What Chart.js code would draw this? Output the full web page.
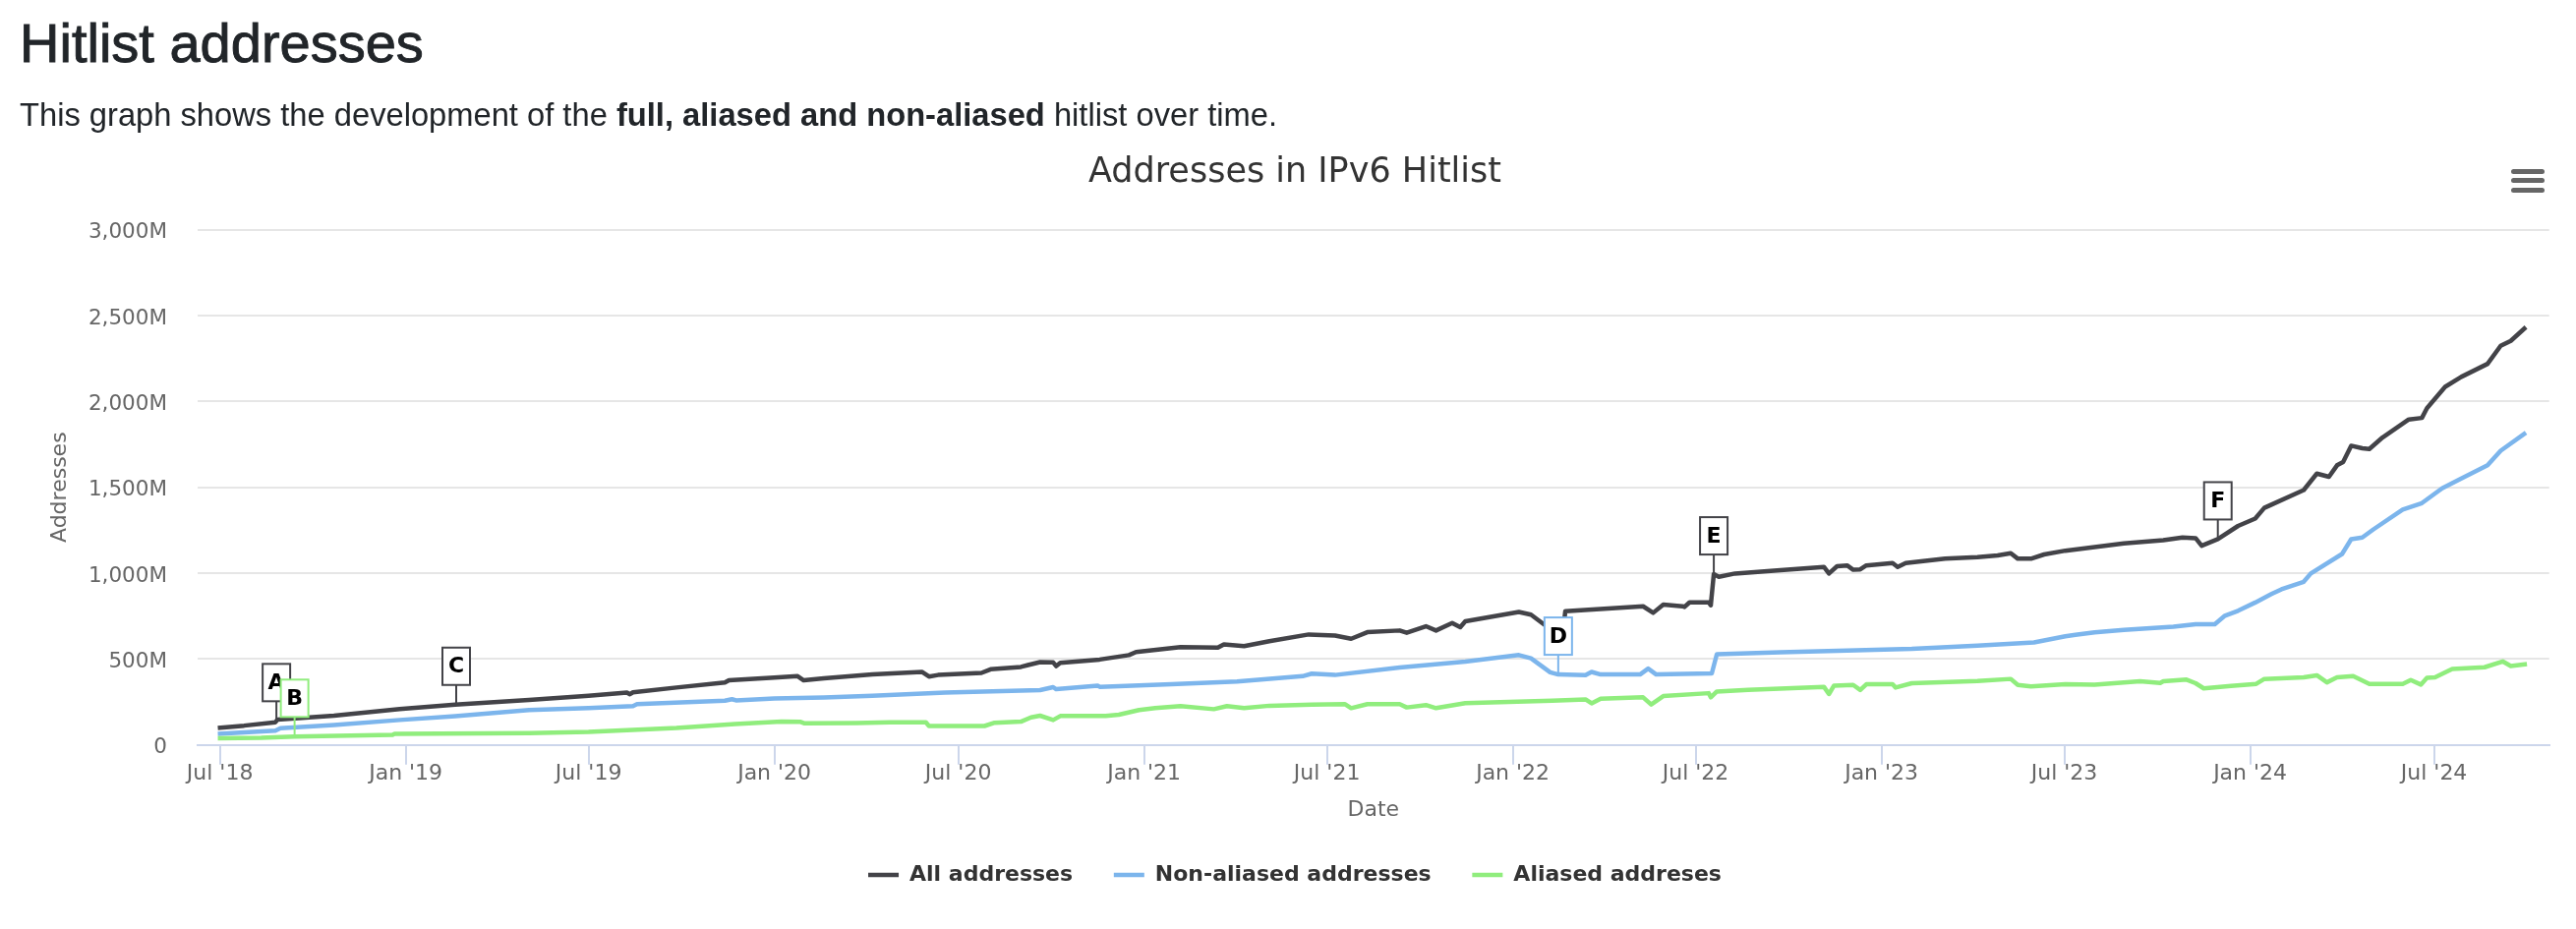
<!DOCTYPE html>
<html>
<head>
<meta charset="utf-8">
<script src="https://cdn.jsdelivr.net/npm/chart.js@4.4.1/dist/chart.umd.min.js"></script>
<style>
html,body{margin:0;padding:0;background:#fff;}
body{width:2620px;height:945px;position:relative;overflow:hidden;font-family:"Liberation Sans",Arial,sans-serif;color:#212529;}
#c{position:absolute;left:0;top:0;}
h3{position:absolute;left:20px;top:15.9px;margin:0;font-size:56px;font-weight:500;line-height:56px;white-space:nowrap;-webkit-text-stroke:0.9px #212529;}
p.sub{position:absolute;left:20px;top:101px;margin:0;font-size:32.7px;line-height:32.7px;white-space:nowrap;}
.menu span{position:absolute;left:2554px;width:34px;height:5px;border-radius:3px;background:#666666;}
</style>
</head>
<body>
<canvas id="c" width="2620" height="945"></canvas>
<h3>Hitlist addresses</h3>
<p class="sub">This graph shows the development of the <b>full, aliased and non-aliased</b> hitlist over time.</p>
<div class="menu"><span style="top:171.7px"></span><span style="top:181px"></span><span style="top:191.2px"></span></div>
<script>
// ---- data (values in millions of addresses) ----
const seriesNames = ['All addresses', 'Non-aliased addresses', 'Aliased addreses'];

const allDates = ['2018-06-29','2018-07-25','2018-08-25','2018-08-27','2018-10-22','2018-12-26','2019-02-19','2019-05-03','2019-07-01','2019-08-08','2019-08-11','2019-08-14','2019-09-26','2019-11-13','2019-11-17','2020-01-01','2020-01-24','2020-01-30','2020-02-19','2020-04-07','2020-05-26','2020-06-02','2020-06-11','2020-07-24','2020-08-02','2020-09-01','2020-09-08','2020-09-20','2020-10-03','2020-10-06','2020-10-10','2020-11-18','2020-12-17','2020-12-24','2021-02-06','2021-03-15','2021-03-21','2021-04-10','2021-05-05','2021-06-13','2021-07-09','2021-07-25','2021-08-10','2021-09-11','2021-09-18','2021-10-07','2021-10-17','2021-11-02','2021-11-10','2021-11-15','2022-01-07','2022-01-19','2022-02-01','2022-02-09','2022-02-20','2022-02-22','2022-05-10','2022-05-20','2022-05-30','2022-06-18','2022-06-20','2022-06-25','2022-07-14','2022-07-16','2022-07-19','2022-07-24','2022-08-09','2022-09-23','2022-11-05','2022-11-10','2022-11-18','2022-11-28','2022-12-04','2022-12-11','2022-12-17','2023-01-12','2023-01-17','2023-01-25','2023-03-05','2023-04-06','2023-04-26','2023-05-09','2023-05-16','2023-05-29','2023-06-11','2023-07-02','2023-08-29','2023-10-07','2023-10-26','2023-11-08','2023-11-14','2023-11-30','2023-12-20','2024-01-06','2024-01-15','2024-01-22','2024-02-23','2024-03-07','2024-03-19','2024-03-27','2024-04-02','2024-04-10','2024-04-21','2024-04-28','2024-05-11','2024-06-06','2024-06-19','2024-06-24','2024-07-12','2024-07-28','2024-08-23','2024-09-05','2024-09-15','2024-09-30'];
const allValues = [99,112,132,147,170,209,234,262,286,305,295,306,334,363,376,392,400,376,388,411,425,398,407,419,440,454,465,482,480,459,478,497,523,541,570,566,585,575,604,643,637,618,656,666,653,691,666,710,685,720,774,758,701,680,672,778,807,769,817,807,803,830,830,813,994,979,998,1017,1036,998,1040,1045,1020,1022,1045,1059,1036,1059,1084,1093,1103,1116,1084,1084,1109,1131,1173,1192,1208,1204,1160,1198,1275,1318,1380,1399,1484,1580,1561,1628,1647,1742,1727,1723,1790,1895,1904,1961,2085,2143,2219,2324,2353,2433];

const nonAliasedDates = ['2018-06-29','2018-08-25','2018-08-30','2018-10-22','2018-12-26','2019-02-19','2019-05-03','2019-07-01','2019-08-14','2019-08-18','2019-11-13','2019-11-20','2019-11-24','2020-01-01','2020-02-19','2020-04-07','2020-06-18','2020-09-20','2020-10-03','2020-10-06','2020-11-16','2020-11-18','2021-01-28','2021-04-03','2021-06-07','2021-06-16','2021-07-09','2021-09-11','2021-11-15','2022-01-07','2022-01-19','2022-02-07','2022-02-15','2022-03-14','2022-03-20','2022-03-29','2022-05-07','2022-05-15','2022-05-23','2022-07-17','2022-07-22','2022-09-23','2022-11-28','2023-01-31','2023-04-06','2023-06-01','2023-07-02','2023-07-12','2023-07-31','2023-08-29','2023-10-17','2023-11-08','2023-11-27','2023-12-07','2023-12-20','2024-01-06','2024-01-22','2024-02-01','2024-02-23','2024-03-01','2024-04-01','2024-04-10','2024-04-21','2024-05-02','2024-05-31','2024-06-19','2024-07-09','2024-07-28','2024-08-23','2024-09-05','2024-09-30'];
const nonAliasedValues = [64,83,97,116,145,167,203,214,226,237,257,266,259,270,276,286,305,319,336,324,345,338,353,369,400,415,407,450,485,523,504,423,410,406,425,410,410,444,410,416,528,540,549,559,578,597,632,641,655,669,688,703,703,752,781,829,878,906,950,998,1112,1198,1208,1255,1370,1408,1494,1551,1628,1713,1818];

const aliasedDates = ['2018-06-29','2018-08-11','2018-09-13','2018-12-19','2018-12-21','2019-05-03','2019-07-01','2019-09-26','2019-11-23','2020-01-08','2020-01-27','2020-01-31','2020-03-22','2020-04-24','2020-05-30','2020-06-02','2020-07-27','2020-08-06','2020-09-01','2020-09-11','2020-09-20','2020-10-03','2020-10-10','2020-11-24','2020-12-07','2020-12-27','2021-01-12','2021-02-06','2021-03-11','2021-03-24','2021-04-10','2021-05-05','2021-06-16','2021-07-19','2021-07-25','2021-08-10','2021-09-11','2021-09-18','2021-10-07','2021-10-17','2021-11-15','2022-02-09','2022-03-14','2022-03-20','2022-03-29','2022-05-10','2022-05-18','2022-05-30','2022-07-14','2022-07-16','2022-07-22','2022-08-22','2022-11-05','2022-11-10','2022-11-15','2022-12-04','2022-12-11','2022-12-17','2023-01-12','2023-01-15','2023-01-31','2023-04-06','2023-05-09','2023-05-16','2023-05-29','2023-07-02','2023-07-31','2023-09-14','2023-10-04','2023-10-07','2023-10-30','2023-11-08','2023-11-16','2023-12-13','2024-01-07','2024-01-15','2024-02-23','2024-03-07','2024-03-17','2024-03-27','2024-04-12','2024-04-28','2024-05-31','2024-06-08','2024-06-18','2024-06-24','2024-07-02','2024-07-19','2024-08-20','2024-09-07','2024-09-15','2024-10-01'];
const aliasedValues = [39,41,48,58,64,68,75,98,122,135,134,125,127,131,131,110,110,129,135,160,170,145,168,168,176,203,214,226,208,226,214,228,234,237,214,237,237,218,232,214,243,258,265,242,269,277,235,284,301,277,311,321,338,296,345,349,320,353,353,334,359,372,384,349,340,353,351,370,360,370,380,359,329,343,355,384,393,405,364,393,401,355,355,378,351,390,393,442,452,486,459,471];

const tickDates = ['2018-07-01','2019-01-01','2019-07-01','2020-01-01','2020-07-01','2021-01-01','2021-07-01','2022-01-01','2022-07-01','2023-01-01','2023-07-01','2024-01-01','2024-07-01'];
const tickLabels = ["Jul '18","Jan '19","Jul '19","Jan '20","Jul '20","Jan '21","Jul '21","Jan '22","Jul '22","Jan '23","Jul '23","Jan '24","Jul '24"];

const flagLetters = ['A','B','C','D','E','F'];
const flagDates = ['2018-08-26','2018-09-13','2019-02-20','2022-02-15','2022-07-19','2023-11-30'];
const flagSeries = [0, 2, 0, 1, 0, 0];

// ---- helpers ----
const ts = d => Date.parse(d + 'T00:00:00Z');
const pts = (ds, vs) => ds.map((d, i) => ({x: ts(d), y: vs[i]}));
const fmt = v => v === 0 ? '0' : String(v).replace(/\B(?=(\d{3})+(?!\d))/g, ',') + 'M';
const colors = ['#434348', '#7cb5ec', '#90ed7d'];

function valueAt(data, t) {
  for (let i = 1; i < data.length; i++) {
    if (data[i].x >= t) {
      const a = data[i - 1], b = data[i];
      const f = (t - a.x) / (b.x - a.x);
      return a.y + f * (b.y - a.y);
    }
  }
  return data[data.length - 1].y;
}

const flagPlugin = {
  id: 'flags',
  afterDatasetsDraw(chart) {
    const ctx = chart.ctx, xs = chart.scales.x, ys = chart.scales.y;
    ctx.save();
    flagLetters.forEach((letter, i) => {
      const ds = chart.data.datasets[flagSeries[i]];
      const t = ts(flagDates[i]);
      const px = xs.getPixelForValue(t);
      const py = ys.getPixelForValue(valueAt(ds.data, t));
      const stem = 20, w = 28, h = 38;
      ctx.strokeStyle = ds.borderColor;
      ctx.lineWidth = 2;
      ctx.beginPath();
      ctx.moveTo(px, py);
      ctx.lineTo(px, py - stem);
      ctx.stroke();
      ctx.fillStyle = '#ffffff';
      ctx.fillRect(px - w / 2, py - stem - h, w, h);
      ctx.strokeRect(px - w / 2, py - stem - h, w, h);
      ctx.fillStyle = '#000000';
      ctx.font = 'bold 22px "DejaVu Sans"';
      ctx.textAlign = 'center';
      ctx.textBaseline = 'middle';
      ctx.fillText(letter, px, py - stem - h / 2 + 1);
    });
    ctx.restore();
  }
};

Chart.defaults.font.family = '"DejaVu Sans", Verdana, sans-serif';

new Chart(document.getElementById('c'), {
  type: 'line',
  data: {
    datasets: [
      {label: seriesNames[0], data: pts(allDates, allValues), borderColor: colors[0], backgroundColor: colors[0], borderWidth: 4.5, pointRadius: 0, pointHoverRadius: 0, order: 3},
      {label: seriesNames[1], data: pts(nonAliasedDates, nonAliasedValues), borderColor: colors[1], backgroundColor: colors[1], borderWidth: 4.5, pointRadius: 0, pointHoverRadius: 0, order: 2},
      {label: seriesNames[2], data: pts(aliasedDates, aliasedValues), borderColor: colors[2], backgroundColor: colors[2], borderWidth: 4.5, pointRadius: 0, pointHoverRadius: 0, order: 1}
    ]
  },
  options: {
    responsive: false,
    animation: false,
    events: [],
    elements: {line: {tension: 0, borderJoinStyle: 'round', borderCapStyle: 'butt', fill: false}},
    layout: {padding: {left: 20, right: 6, top: 0, bottom: 34.1}},
    scales: {
      x: {
        type: 'linear', position: 'bottom', bounds: 'data',
        min: ts('2018-06-09'), max: ts('2024-10-23'),
        afterBuildTicks: s => { s.ticks = tickDates.map(d => ({value: ts(d)})); },
        afterFit: s => { s.height = 79.5; },
        ticks: {autoSkip: false, maxRotation: 0, minRotation: 0, color: '#666666', font: {size: 22, lineHeight: 1}, padding: -1,
                callback: (v, i) => tickLabels[i]},
        grid: {drawOnChartArea: false, drawTicks: true, tickLength: 20, color: '#ccd6eb', lineWidth: 2},
        border: {display: true, color: '#ccd6eb', width: 2},
        title: {display: true, text: 'Date', color: '#666666', font: {size: 22}, padding: {top: 0, bottom: 0}}
      },
      y: {
        position: 'left', min: 0, max: 3000,
        afterFit: s => { s.width = 181; },
        ticks: {stepSize: 500, color: '#666666', font: {size: 21.5}, padding: 31, labelOffset: 3, callback: fmt},
        grid: {color: '#e6e6e6', lineWidth: 2, drawTicks: false},
        border: {display: false},
        title: {display: true, text: 'Addresses', color: '#666666', font: {size: 22}, padding: {top: 27.8, bottom: 0}}
      },
      yR: {
        position: 'right', display: true,
        afterFit: s => { s.width = 21.3; },
        grid: {display: false, drawTicks: false},
        border: {display: false},
        ticks: {display: false}
      }
    },
    plugins: {
      legend: {
        display: true, position: 'bottom', align: 'center',
        labels: {usePointStyle: true, pointStyle: 'line', pointStyleWidth: 31, color: '#333333',
                 font: {size: 22, weight: 'bold'}, padding: 41.7,
                 sort: (a, b) => a.datasetIndex - b.datasetIndex}
      },
      title: {
        display: true, text: 'Addresses in IPv6 Hitlist', color: '#333333',
        font: {size: 35, weight: 'normal', lineHeight: 1.2}, padding: {top: 155, bottom: 36.7}
      },
      tooltip: {enabled: false}
    }
  },
  plugins: [flagPlugin]
});
</script>
</body>
</html>
